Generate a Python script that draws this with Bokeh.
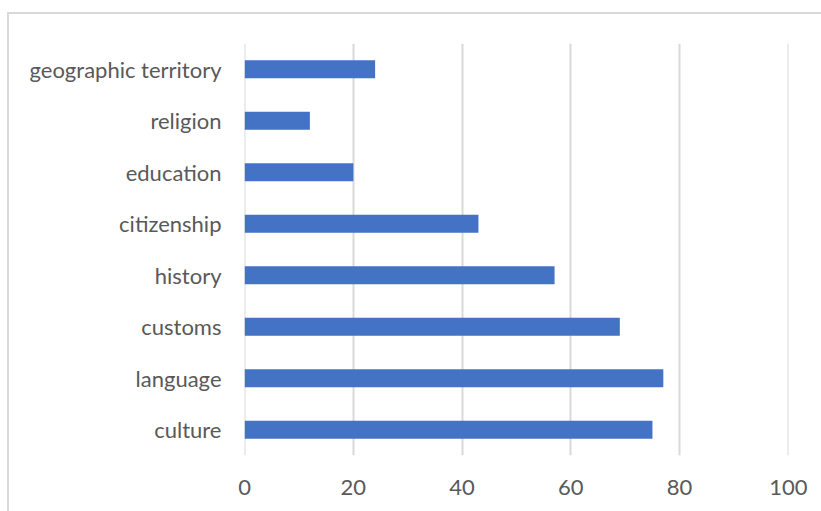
from bokeh.plotting import figure
from bokeh.models import ColumnDataSource, FixedTicker
from bokeh.embed import file_html
from bokeh.resources import INLINE

categories = ["culture", "language", "customs", "history", "citizenship",
              "education", "religion", "geographic territory"]
values = [75, 77, 69, 57, 43, 20, 12, 24]
x_ticks = [0, 20, 40, 60, 80, 100]

FONT = "Lato"
GRAY = "#595959"

p = figure(width=812, height=497, y_range=categories, x_range=(-0.02, 100.02),
           output_backend="svg", toolbar_location=None,
           min_border_left=235, min_border_right=35,
           min_border_top=29, min_border_bottom=58)
p.margin = (12, 0, 0, 7)
p.styles = {"border-top": "2px solid #d9d9d9", "border-left": "2px solid #d9d9d9",
            "box-sizing": "content-box"}
p.outline_line_color = None
p.background_fill_color = "white"
p.border_fill_color = "white"
p.y_range.range_padding = 0

src = ColumnDataSource(dict(cat=categories, val=values))
p.hbar(y="cat", right="val", left=0, height=0.35, source=src,
       fill_color="#4472C4", line_color="#4472C4", line_width=0)

p.xgrid.ticker = FixedTicker(ticks=x_ticks)
p.xgrid.grid_line_color = "#d9d9d9"
p.xgrid.grid_line_width = 2
p.xgrid.level = "underlay"
p.ygrid.grid_line_color = None

p.xaxis.ticker = FixedTicker(ticks=x_ticks)
for ax in (p.xaxis, p.yaxis):
    ax.axis_line_color = None
    ax.major_tick_line_color = None
    ax.minor_tick_line_color = None
    ax.major_label_text_font = FONT
    ax.major_label_text_font_size = "22px"
    ax.major_label_text_color = GRAY
p.xaxis.major_label_standoff = 18
p.yaxis.major_label_standoff = 17

open("out.html", "w").write(file_html(p, INLINE))
